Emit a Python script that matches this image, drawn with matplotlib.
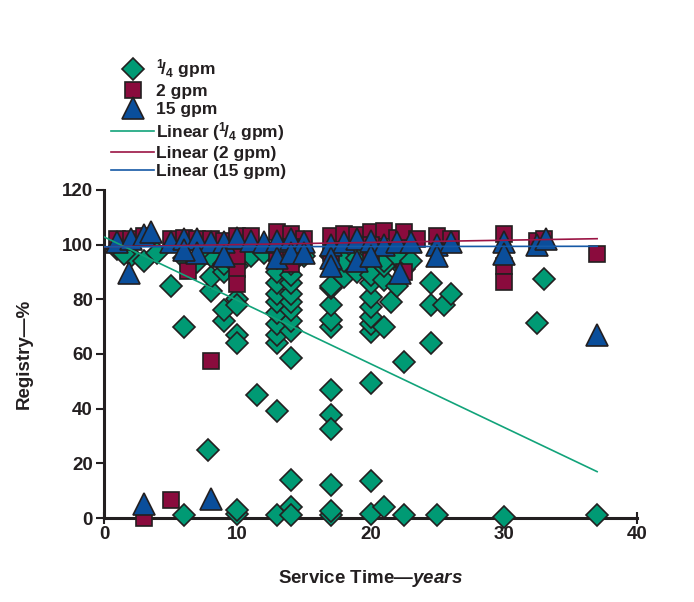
import matplotlib
matplotlib.use('Agg')
import matplotlib.pyplot as plt
import numpy as np

plt.rcParams['font.family'] = ['Liberation Sans', 'DejaVu Sans']
plt.rcParams['font.weight'] = 'bold'
plt.rcParams['mathtext.fontset'] = 'custom'
plt.rcParams['mathtext.rm'] = 'Liberation Sans:bold'
plt.rcParams['mathtext.bf'] = 'Liberation Sans:bold'
plt.rcParams['mathtext.it'] = 'Liberation Sans:bold:italic'

# 1/4 gpm
quarter_x = [6, 10, 10, 13, 14, 14, 17, 17, 20, 21, 22.5, 25, 30, 37,
             14, 17, 20, 7.8,
             11.5, 13, 17, 17, 17, 20,
             14, 22.5,
             6, 10, 10, 13, 13, 13, 14, 14, 17, 17, 20, 20, 20, 21, 24.5, 32.5,
             9, 9, 10, 10, 13, 13, 13, 14, 14, 14, 17, 17, 20, 20, 21.5, 24.5, 25.5, 26, 33,
             5, 8, 8, 9, 13, 13, 14, 14, 17, 18, 19, 20, 20, 21, 22, 22.5, 24.5, 21,
             1, 2, 3, 4, 6, 7, 8, 9, 10, 11, 13, 14, 15, 17, 18, 19, 20, 21, 22, 23, 1.5, 7.5, 12]
quarter_y = [1, 1.5, 3, 1, 4, 1, 1, 2.5, 1.5, 4, 1, 1, 0.5, 1,
             14, 12, 13.5, 25,
             45, 39, 47, 37.5, 32.5, 49.5,
             58.5, 57,
             70, 67, 64, 64, 67, 71, 68.5, 72, 70, 72.5, 68, 71, 73.5, 70, 64, 71.4,
             72, 76, 80, 78, 75, 79, 82, 76, 79, 82, 78, 84, 77, 81, 79, 78, 78, 82, 87.4,
             84.8, 83, 88, 90, 86, 90, 86, 89, 85, 88, 90, 86, 89, 87, 85, 91, 86, 92,
             98.5, 96, 94, 97, 95, 93.5, 96, 93, 92, 96, 95, 93, 96, 96, 94, 95, 97, 94, 96, 94, 96.5, 99, 97]

# 2 gpm
two_x = [1, 2, 3, 5, 6, 7, 8, 9, 10, 11, 13, 14, 15, 17, 18, 19, 20, 21, 22, 22.5,
         23.5, 25, 26, 30, 32.5, 33,
         3, 5, 6.3, 8, 10, 10, 14, 13, 17, 20, 22.5, 30, 30, 37, 10, 14, 20]
two_y = [102, 102, 103, 102, 102.5, 102, 102, 101.5, 103, 103, 104.5, 104, 102, 103,
         104, 103.5, 104.5, 105, 102.5, 104.5, 102, 103, 102, 104, 101.5, 102,
         0, 6.5, 90.3, 57.6, 91, 85.5, 93, 97, 97, 95, 90, 92, 86.5, 96.5, 96, 99, 100]

# 15 gpm
fifteen_x = [1, 2, 3, 3.5, 5, 6, 7, 8, 9, 10, 11, 12, 13, 14, 15, 17, 18, 19, 20, 21,
             22, 23, 25, 26, 30, 32.5, 33.2,
             1.9, 3, 8, 7, 9, 13, 14, 17, 17, 19, 20, 22.2, 25, 30, 37, 6, 15]
fifteen_y = [101, 102, 103.5, 104.5, 101, 102, 102, 101, 101, 102.5, 101.5, 101, 101.5,
             102, 101, 100, 101, 102, 101.5, 100, 101, 101, 100, 101, 101, 100, 102,
             89.6, 5, 7, 97, 96, 95, 97, 95, 92, 94, 96, 89.5, 96, 96.5, 67, 98, 97]

# linear trendlines: (intercept, slope) and fitted range
trend_x = [0, 37]
quarter_fit = (102.8, -2.32)
two_fit = (99.2, 0.08)
fifteen_fit = (99.2, 0.005)

green = '#009a74'
maroon = '#8a0b3d'
blue = '#0a4e9b'
edge = '#231f20'

fig = plt.figure(figsize=(6.94, 6.02), dpi=100)
ax = fig.add_axes([0.150, 0.1395, 0.768, 0.545])

ax.plot(quarter_x, quarter_y, 'D', ms=11.5, mfc=green, mec=edge, mew=1.2,
        clip_on=False, label=r'$^{1}\!/_{4}$ gpm', zorder=3)
ax.plot(two_x, two_y, 's', ms=12, mfc=maroon, mec=edge, mew=1.2,
        clip_on=False, label='2 gpm', zorder=4)
ax.plot(fifteen_x, fifteen_y, '^', ms=16, mfc=blue, mec=edge, mew=1.2,
        clip_on=False, label='15 gpm', zorder=5)

tx = np.array(trend_x, dtype=float)
ax.plot(tx, quarter_fit[0] + quarter_fit[1] * tx, color='#12a37a', lw=1.2,
        label=r'Linear ($^{1}\!/_{4}$ gpm)', zorder=6)
ax.plot(tx, two_fit[0] + two_fit[1] * tx, color='#9b1444', lw=1.2,
        label='Linear (2 gpm)', zorder=6)
ax.plot(tx, fifteen_fit[0] + fifteen_fit[1] * tx, color='#1559a6', lw=1.2,
        label='Linear (15 gpm)', zorder=6)

ax.set_xlim(0, 40)
ax.set_ylim(0, 120)
ax.set_xticks([0, 10, 20, 30, 40])
ax.set_yticks([0, 20, 40, 60, 80, 100, 120])
for s in ['top', 'right']:
    ax.spines[s].set_visible(False)
for s in ['left', 'bottom']:
    ax.spines[s].set_linewidth(2.2)
    ax.spines[s].set_color(edge)
ax.tick_params(axis='y', direction='out', length=6, width=1.5, color=edge,
               labelsize=13.5, labelcolor=edge, pad=2)
ax.tick_params(axis='x', direction='inout', length=8, width=1.5, color=edge,
               labelsize=13.5, labelcolor=edge, pad=2)

ax.set_ylabel('Registry—%', fontsize=13.5, fontweight='bold', color=edge, labelpad=21)
ax.set_xlabel(r'Service Time—$\mathit{years}$', fontsize=13.5, fontweight='bold',
              color=edge, labelpad=18)

leg = ax.legend(loc='upper left', bbox_to_anchor=(0.0, 1.425), frameon=False,
                fontsize=12.5, handlelength=2.5, handletextpad=0.1,
                labelspacing=0.18, borderaxespad=0)
for t in leg.get_texts():
    t.set_color(edge)

fig.savefig('out.png', dpi=100)
